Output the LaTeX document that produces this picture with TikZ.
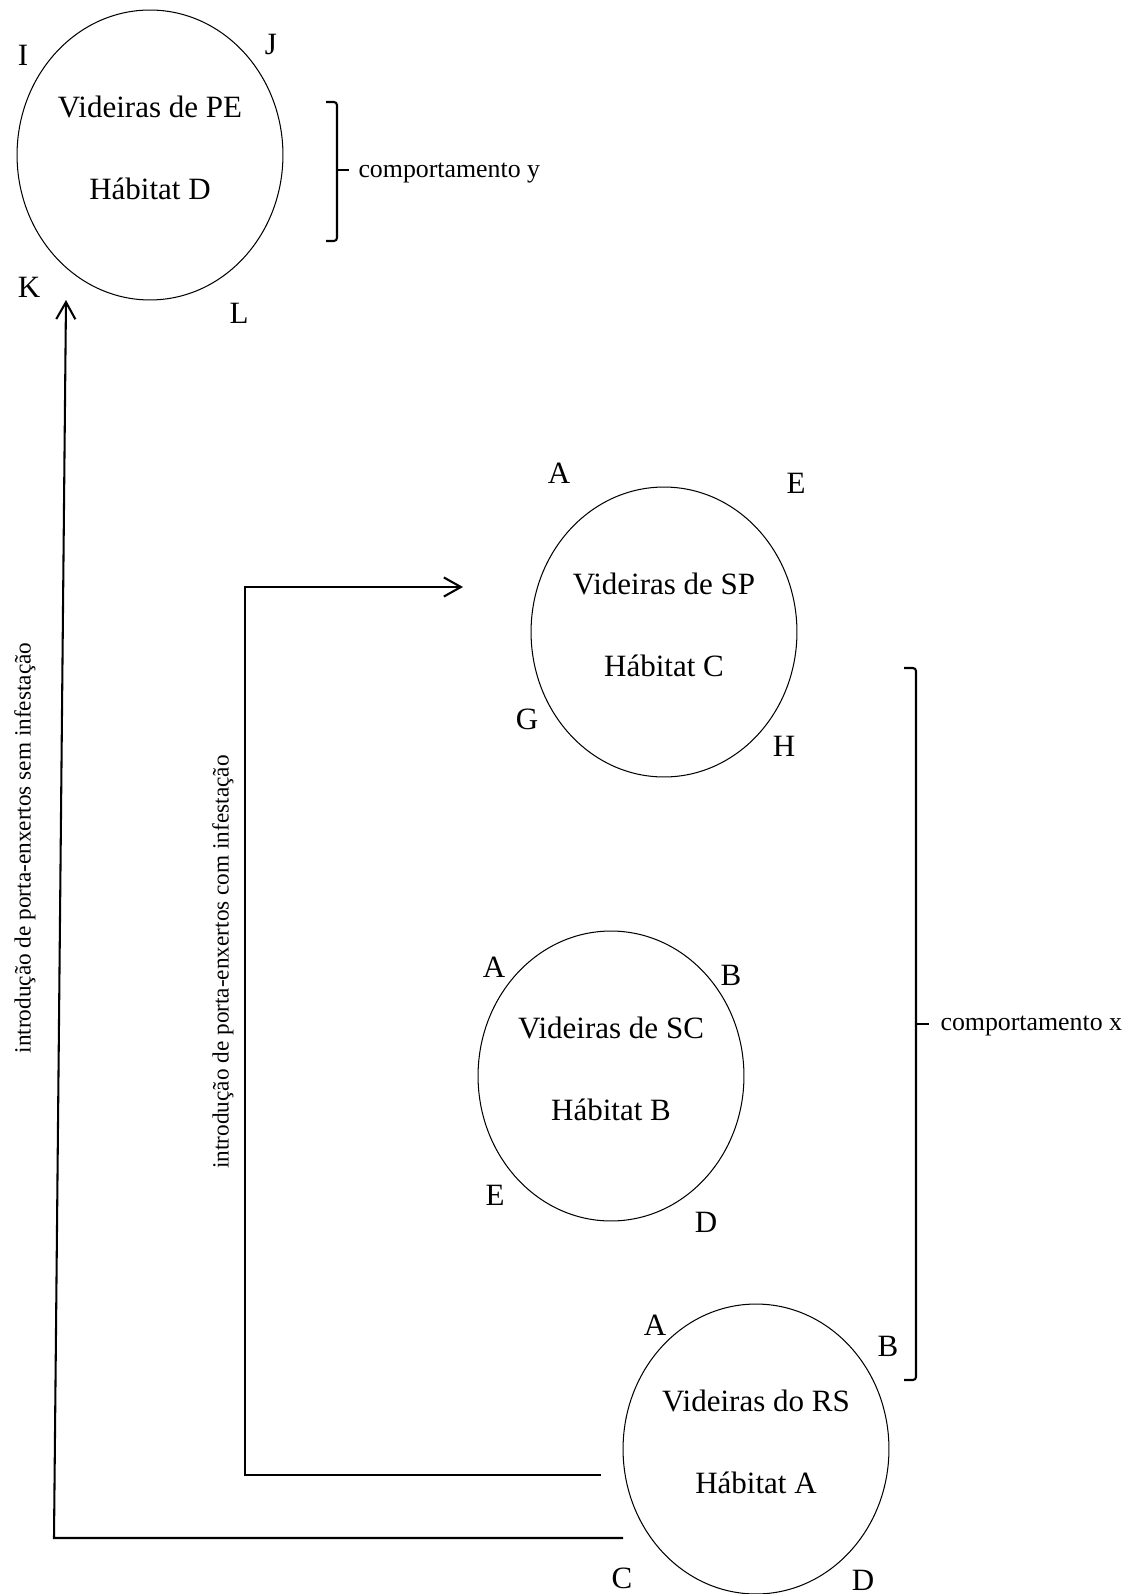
\documentclass[tikz,border=0pt]{standalone}
\usepackage{fontspec}
\setmainfont{Liberation Serif}
\usetikzlibrary{arrows.meta, shapes.geometric}

\begin{document}
\begin{tikzpicture}[
  x=0.387pt, y=-0.387pt,
  every node/.style={font=\fontsize{12}{14}\selectfont},
  habitat/.style={ellipse, draw, line width=0.4pt, minimum width=102.9pt, minimum height=112.2pt, inner sep=0pt, align=center, font=\fontsize{12}{31.7}\selectfont, text depth=5.4pt},
  canto/.style={inner sep=0pt, font=\fontsize{12}{14}\selectfont},
  fluxo/.style={line width=0.8pt},
  seta/.style={fluxo, -{Straight Barb[length=6.6pt, width=7.4pt]}},
  chave/.style={line width=0.8pt, rounded corners=1.2pt},
  nota/.style={font=\fontsize{10}{12}\selectfont, anchor=base west, inner sep=0pt},
  rotulo/.style={font=\fontsize{9}{11}\selectfont, rotate=90, inner sep=0pt},
]
\useasboundingbox (0,0) rectangle (1138,1594);

% Habitat D: PE
\node[habitat] (pe) at (150,155) {Videiras de PE\\Hábitat D};
\node[canto] (peI) at (23,55) {I};
\node[canto] (peJ) at (271,45) {J};
\node[canto] (peK) at (29,287) {K};
\node[canto] (peL) at (239,313) {L};

% Habitat C: SP
\node[habitat] (sp) at (664,632) {Videiras de SP\\Hábitat C};
\node[canto] (spA) at (559,473) {A};
\node[canto] (spE) at (796,483) {E};
\node[canto] (spG) at (527,719) {G};
\node[canto] (spH) at (784,746) {H};

% Habitat B: SC
\node[habitat] (sc) at (611,1076) {Videiras de SC\\Hábitat B};
\node[canto] (scA) at (494,967) {A};
\node[canto] (scB) at (731,975) {B};
\node[canto] (scE) at (495,1195) {E};
\node[canto] (scD) at (706,1222) {D};

% Habitat A: RS
\node[habitat] (rs) at (756,1449) {Videiras do RS\\Hábitat A};
\node[canto] (rsA) at (655,1325) {A};
\node[canto] (rsB) at (888,1346) {B};
\node[canto] (rsC) at (622,1578) {C};
\node[canto] (rsD) at (863,1580) {D};

% Porta-enxertos sem infestacao: RS -> PE
\coordinate (rsBaixo) at (623,1538);
\coordinate (cantoFora) at (54,1538);
\coordinate (peChega) at (66,300);
\draw[seta] (rsBaixo) -- (cantoFora) -- (peChega);
\node[rotulo] (semInf) at (25,848) {introdução de porta-enxertos sem infestação};

% Porta-enxertos com infestacao: RS -> SP
\coordinate (rsMeio) at (601,1475);
\coordinate (cantoDentro) at (245,1475);
\coordinate (cantoAlto) at (245,587);
\coordinate (spChega) at (463,587);
\draw[seta] (rsMeio) -- (cantoDentro) -- (cantoAlto) -- (spChega);
\node[rotulo] (comInf) at (223,962) {introdução de porta-enxertos com infestação};

% Chaves de comportamento
\draw[chave] (326,102) -- (337,102) -- (337,241) -- (326,241);
\draw[chave] (337,170) -- (349,170);
\node[nota] (compY) at (358,178) {comportamento y};

\draw[chave] (904,668) -- (916,668) -- (916,1380) -- (904,1380);
\draw[chave] (916,1024) -- (929,1024);
\node[nota] (compX) at (940,1030) {comportamento x};

\end{tikzpicture}
\end{document}
